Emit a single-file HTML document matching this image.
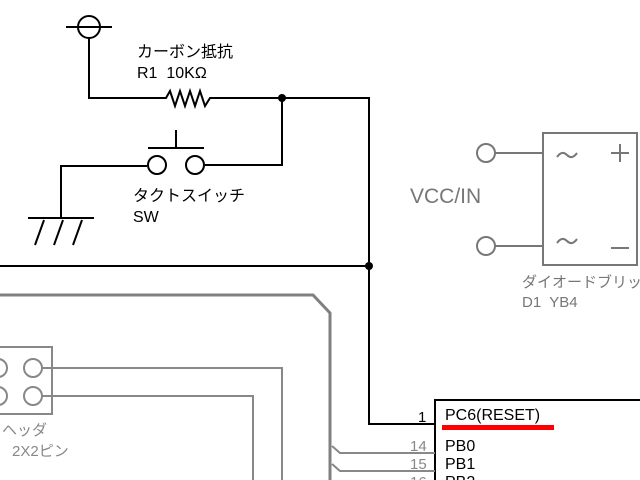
<!DOCTYPE html>
<html><head><meta charset="utf-8"><style>
html,body{margin:0;padding:0;background:#fff;}
svg{display:block;}
text{font-family:"Liberation Sans","Noto Sans CJK JP",sans-serif;}
</style></head><body>
<svg width="640" height="480" viewBox="0 0 640 480" xmlns="http://www.w3.org/2000/svg">
<rect width="640" height="480" fill="#fff"/>
<g stroke="#000" stroke-width="2" fill="none">
  <circle cx="89" cy="27" r="11"/>
  <line x1="66" y1="27" x2="112" y2="27"/>
  <polyline points="89,38 89,98 166,98 170,91 175,106 180,91 185,106 190,91 195,106 200,91 205,106 210,98 369,98 369,424 435,424"/>
  <polyline points="282,98 282,165 205,165"/>
  <line x1="0" y1="266" x2="369" y2="266"/>
  <circle cx="157" cy="165" r="9"/>
  <circle cx="195" cy="165" r="9"/>
  <line x1="148" y1="148" x2="204" y2="148"/>
  <line x1="176" y1="130" x2="176" y2="148"/>
  <polyline points="147,166 61,166 61,218"/>
  <line x1="28" y1="218" x2="94" y2="218"/>
  <line x1="44" y1="220" x2="35" y2="245"/>
  <line x1="63" y1="220" x2="54" y2="245"/>
  <line x1="82" y1="220" x2="73" y2="245"/>
  <polyline points="435,480 435,400 640,400"/>
</g>
<circle cx="282" cy="98" r="4" fill="#000"/>
<circle cx="369" cy="266" r="4" fill="#000"/>
<g fill="#000" font-size="16">
  <text x="137" y="57">カーボン抵抗</text>
  <text x="137" y="78" xml:space="preserve">R1  10KΩ</text>
  <text x="133" y="201">タクトスイッチ</text>
  <text x="133" y="222">SW</text>
</g>
<g stroke="#777" stroke-width="2" fill="none">
  <circle cx="486" cy="153" r="9"/>
  <circle cx="486" cy="246" r="9"/>
  <line x1="495" y1="153" x2="542" y2="153"/>
  <line x1="495" y1="246" x2="542" y2="246"/>
  <rect x="543" y="133" width="94" height="132"/>
  <path d="M557,157 Q562,150 567,155 T577,153"/>
  <path d="M557,243 Q562,236 567,241 T577,239"/>
  <line x1="611" y1="153" x2="629" y2="153"/>
  <line x1="620" y1="144" x2="620" y2="162"/>
  <line x1="611" y1="248" x2="629" y2="248"/>
</g>
<g fill="#777">
  <text x="410" y="203" font-size="21">VCC/IN</text>
  <text x="522" y="287" font-size="15">ダイオードブリッジ</text>
  <text x="522" y="307" font-size="15" xml:space="preserve">D1  YB4</text>
</g>
<g stroke="#808080" stroke-width="3" fill="none">
  <polyline points="0,295 313,295 330,313 330,480"/>
</g>
<g stroke="#888" stroke-width="2" fill="none">
  <rect x="-2" y="347" width="54" height="67"/>
  <circle cx="33" cy="368" r="9"/>
  <circle cx="33" cy="396" r="9"/>
  <circle cx="-2" cy="368" r="9"/>
  <circle cx="-2" cy="396" r="9"/>
  <polyline points="42,368 282,368 282,480"/>
  <polyline points="42,396 253,396 253,480"/>
  <polyline points="332,446 340,453 435,453"/>
  <polyline points="332,464 340,471 435,471"/>
</g>
<g fill="#888" font-size="15">
  <text x="2" y="435">ヘッダ</text>
  <text x="12" y="456">2X2ピン</text>
  <text x="410" y="451">14</text>
  <text x="410" y="469">15</text>
  <text x="410" y="487">16</text>
</g>
<g fill="#000" font-size="16">
  <text x="418" y="422" font-size="15">1</text>
  <text x="445" y="420">PC6(RESET)</text>
  <text x="445" y="451">PB0</text>
  <text x="445" y="469">PB1</text>
  <text x="445" y="487">PB2</text>
</g>
<rect x="442" y="425" width="112" height="5" fill="#f00"/>
</svg>
</body></html>
